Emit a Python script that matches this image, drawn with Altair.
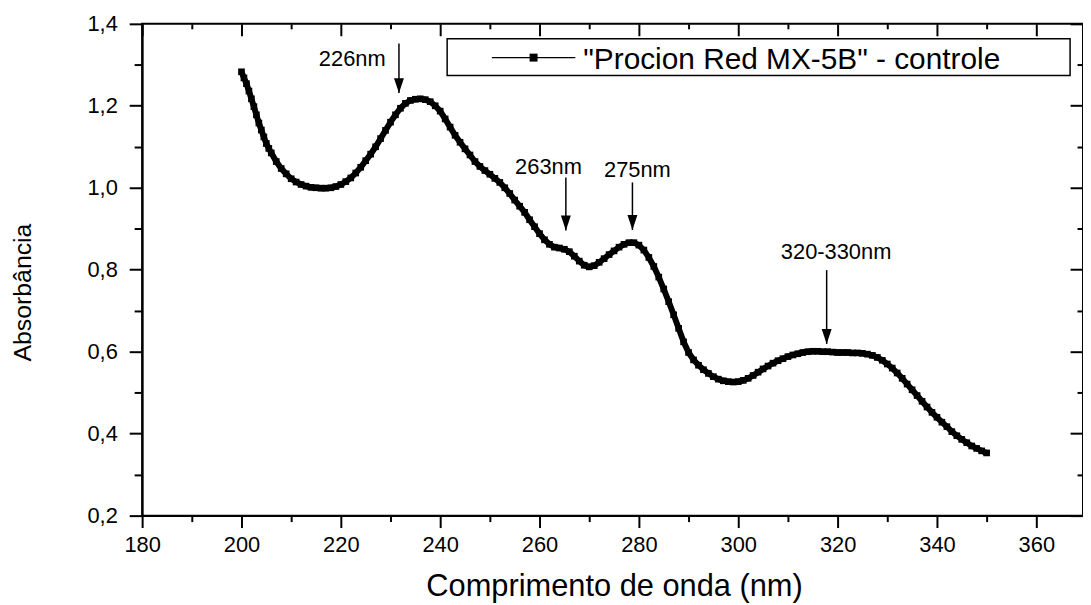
import altair as alt
import pandas as pd

FONT = "Liberation Sans, Arial, sans-serif"

# ---- data ----
wavelength = [200.0, 200.5, 201.0, 201.5, 202.0, 202.5, 203.0, 203.5, 204.0, 204.5,
              205.0, 205.5, 206, 207, 208, 209, 210, 211, 212, 213, 214, 215, 216,
              217, 218, 219, 220, 221, 222, 223, 224, 225, 226, 227, 228, 229, 230,
              231, 232, 233, 234, 235, 236, 237, 238, 239, 240, 241, 242, 243, 244,
              245, 246, 247, 248, 249, 250, 251, 252, 253, 254, 255, 256, 257, 258,
              259, 260, 261, 262, 263, 264, 265, 266, 267, 268, 269, 270, 271, 272,
              273, 274, 275, 276, 277, 278, 279, 280, 281, 282, 283, 284, 285, 286,
              287, 288, 289, 290, 291, 292, 293, 294, 295, 296, 297, 298, 299, 300,
              301, 302, 303, 304, 305, 306, 307, 308, 309, 310, 311, 312, 313, 314,
              315, 316, 317, 318, 319, 320, 321, 322, 323, 324, 325, 326, 327, 328,
              329, 330, 331, 332, 333, 334, 335, 336, 337, 338, 339, 340, 341, 342,
              343, 344, 345, 346, 347, 348, 349, 350]
absorbance = [1.283, 1.268, 1.254, 1.236, 1.217, 1.198, 1.178, 1.158, 1.141, 1.124,
              1.108, 1.096, 1.085, 1.064, 1.047, 1.034, 1.022, 1.014, 1.008, 1.004,
              1.001, 1.000, 0.999, 0.999, 1.000, 1.003, 1.008, 1.015, 1.024, 1.036,
              1.050, 1.066, 1.082, 1.100, 1.120, 1.140, 1.160, 1.178, 1.194, 1.206,
              1.213, 1.216, 1.217, 1.215, 1.210, 1.200, 1.187, 1.168, 1.148, 1.128,
              1.111, 1.095, 1.080, 1.064, 1.052, 1.042, 1.033, 1.023, 1.013, 1.000,
              0.986, 0.970, 0.955, 0.940, 0.922, 0.905, 0.888, 0.873, 0.862, 0.855,
              0.853, 0.850, 0.844, 0.833, 0.821, 0.811, 0.807, 0.810, 0.818, 0.827,
              0.837, 0.846, 0.855, 0.862, 0.866, 0.866, 0.860, 0.848, 0.830, 0.808,
              0.782, 0.753, 0.722, 0.690, 0.657, 0.624, 0.598, 0.580, 0.567, 0.556,
              0.547, 0.539, 0.533, 0.529, 0.527, 0.526, 0.527, 0.530, 0.535, 0.542,
              0.550, 0.558, 0.565, 0.572, 0.578, 0.583, 0.588, 0.592, 0.595, 0.598,
              0.600, 0.601, 0.601, 0.600, 0.600, 0.599, 0.598, 0.598, 0.598, 0.597,
              0.597, 0.596, 0.594, 0.591, 0.586, 0.579, 0.570, 0.560, 0.548, 0.535,
              0.521, 0.507, 0.493, 0.479, 0.465, 0.452, 0.440, 0.428, 0.417, 0.405,
              0.395, 0.386, 0.378, 0.370, 0.364, 0.358, 0.353]
series_name = '"Procion Red MX-5B" - controle'

peak_labels = ["226nm", "263nm", "275nm", "320-330nm"]
label_x = [222.3, 261.8, 279.7, 319.7]
label_y = [1.313, 1.051, 1.044, 0.843]
arrow_x = [231.7, 265.3, 278.7, 317.8]
arrow_top = [1.352, 1.025, 1.013, 0.799]
arrow_tip = [1.231, 0.896, 0.897, 0.619]

x_major = [180, 200, 220, 240, 260, 280, 300, 320, 340, 360]
x_minor = [190, 210, 230, 250, 270, 290, 310, 330, 350]
y_major = [0.2, 0.4, 0.6, 0.8, 1.0, 1.2, 1.4]
y_minor = [0.3, 0.5, 0.7, 0.9, 1.1, 1.3]

df = pd.DataFrame({"wl": wavelength, "abs": absorbance})
lab_df = pd.DataFrame({"x": label_x, "y": label_y, "t": peak_labels})
arr_df = pd.DataFrame({"x": arrow_x, "top": arrow_top, "tip": arrow_tip})
leg_df = pd.DataFrame({"label": [series_name]})

xs = alt.Scale(domain=[180, 369.4], nice=False, zero=False)
ys = alt.Scale(domain=[0.2, 1.4], nice=False, zero=False)

tick_style = dict(tickColor="black", tickWidth=2, grid=False)

x_main_axis = alt.Axis(orient="bottom", values=x_major, tickSize=12, domainWidth=2,
                       domainColor="black", labelFontSize=22, labelFont=FONT,
                       labelColor="black", labelPadding=7, labelFlush=False,
                       labelOverlap=False, title="Comprimento de onda (nm)",
                       titleFont=FONT, titleFontSize=31, titleFontWeight="normal",
                       titleColor="black", titleX=475, titleY=80,
                       titleBaseline="alphabetic", titleAlign="center", **tick_style)
y_main_axis = alt.Axis(orient="left", values=y_major, tickSize=13, domainWidth=2,
                       domainColor="black", format=".1f",
                       labelExpr="replace(datum.label, '.', ',')",
                       labelFontSize=22, labelFont=FONT, labelColor="black",
                       labelPadding=12, labelFlush=False, labelOverlap=False,
                       title="Absorbância", titleFont=FONT, titleFontSize=25,
                       titleFontWeight="normal", titleColor="black", titleAngle=270,
                       titleX=-112, titleY=270, titleAlign="center",
                       titleBaseline="alphabetic", **tick_style)

line = alt.Chart(df).mark_line(color="black", strokeWidth=6).encode(
    x=alt.X("wl:Q", scale=xs, axis=x_main_axis),
    y=alt.Y("abs:Q", scale=ys, axis=y_main_axis),
)
squares = alt.Chart(df).mark_point(shape="square", filled=True, size=45,
                                   color="black", opacity=1).encode(
    x=alt.X("wl:Q", scale=xs, axis=None),
    y=alt.Y("abs:Q", scale=ys, axis=None),
)


def ghost(xaxis, yaxis):
    return alt.Chart(df).mark_point(opacity=0).encode(
        x=alt.X("wl:Q", scale=xs, axis=xaxis),
        y=alt.Y("abs:Q", scale=ys, axis=yaxis),
    )


def plain(orient, values, size, offset=0):
    return alt.Axis(orient=orient, values=values, tickSize=size, offset=offset,
                    labels=False, domain=False, title=None, **tick_style)


minor_out = ghost(plain("bottom", x_minor, 6), plain("left", y_minor, 8))
major_in = ghost(plain("top", x_major, 12, -12), plain("right", y_major, 13, -13))
minor_in = ghost(plain("top", x_minor, 5, -5), plain("right", y_minor, 6, -6))

shafts = alt.Chart(arr_df).mark_rule(color="black", strokeWidth=1.5).encode(
    x=alt.X("x:Q", scale=xs, axis=None),
    y=alt.Y("top:Q", scale=ys, axis=None),
    y2="tip:Q",
)
heads = alt.Chart(arr_df).mark_point(shape="M-1,-3L1,-3L0,0Z", filled=True, size=100,
                                     color="black", opacity=1).encode(
    x=alt.X("x:Q", scale=xs, axis=None),
    y=alt.Y("tip:Q", scale=ys, axis=None),
)
labels = alt.Chart(lab_df).mark_text(font=FONT, fontSize=22, color="black",
                                     align="center", baseline="middle").encode(
    x=alt.X("x:Q", scale=xs, axis=None),
    y=alt.Y("y:Q", scale=ys, axis=None),
    text="t:N",
)

leg_box = alt.Chart(leg_df).mark_rect(fill="white", stroke="black", strokeWidth=1.5).encode(
    x=alt.value(307), x2=alt.value(934), y=alt.value(15), y2=alt.value(52))
leg_line = alt.Chart(leg_df).mark_rule(color="black", strokeWidth=1.2).encode(
    x=alt.value(352), x2=alt.value(436), y=alt.value(34))
leg_sq = alt.Chart(leg_df).mark_point(shape="square", filled=True, size=64,
                                      color="black", opacity=1).encode(
    x=alt.value(394), y=alt.value(34))
leg_text = alt.Chart(leg_df).mark_text(font=FONT, fontSize=30, color="black",
                                       align="left", baseline="middle").encode(
    x=alt.value(444), y=alt.value(36), text="label:N")

chart = alt.layer(
    line, squares, minor_out, major_in, minor_in, shafts, heads, labels,
    leg_box, leg_line, leg_sq, leg_text,
).resolve_axis(x="independent", y="independent").properties(
    width=947, height=495,
    autosize=alt.AutoSizeParams(type="none"),
    padding={"left": 135, "top": 14, "right": 0, "bottom": 86},
    background="white",
).configure_view(stroke="black", strokeWidth=2)

chart.save("out.html", embed_options={"renderer": "svg", "actions": False})
